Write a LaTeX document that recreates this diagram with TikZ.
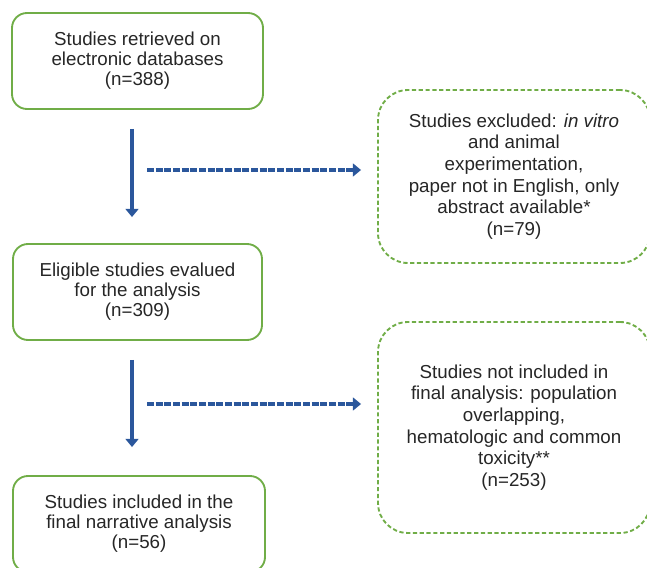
\documentclass[tikz,border=0pt]{standalone}
\usepackage{fontspec}
\setmainfont{Liberation Sans}
\usetikzlibrary{arrows.meta,positioning}
\definecolor{boxgreen}{HTML}{70AD47}
\definecolor{arrowblue}{HTML}{2B579C}

\begin{document}
\begin{tikzpicture}[x=0.03cm, y=-0.03cm, ->, >={Triangle[width=11pt,length=7pt]},
  box/.style={draw=boxgreen, line width=1.6pt, rounded corners=0.45cm, align=center,
    font=\fontsize{16}{17}\selectfont, text=black!85, inner sep=0pt},
  exbox/.style={box, dash pattern=on 3.6pt off 2.2pt, rounded corners=0.9cm,
    font=\fontsize{16}{18.5}\selectfont},
  down/.style={arrowblue, line width=4.2pt},
  side/.style={down, dash pattern=on 6pt off 1.4pt}]
  \useasboundingbox (0,0) rectangle (647,568);
  \node[box, minimum width=7.53cm, minimum height=2.88cm] (retr) at (137.5,61)
    {Studies retrieved on\\electronic databases\\(n=388)};
  \node[box, minimum width=7.47cm, minimum height=2.88cm] (elig) at (137.5,292)
    {Eligible studies evalued\\for the analysis\\(n=309)};
  \node[box, minimum width=7.56cm, minimum height=2.88cm] (incl) at (139,524)
    {Studies included in the\\final narrative analysis\\(n=56)};
  \node[exbox, minimum width=8.16cm, minimum height=5.19cm] (excl) at (514,176.5)
    {Studies excluded: \textit{in vitro}\\and animal\\experimentation,\\paper not in English, only\\abstract available*\\(n=79)};
  \node[exbox, minimum width=8.16cm, minimum height=6.33cm] (notincl) at (514,427.5)
    {Studies not included in\\final analysis: population\\overlapping,\\hematologic and common\\toxicity**\\(n=253)};
  % arrows
  \coordinate (v) at (132,0);
  \coordinate (h1) at (147,170);
  \coordinate (h2) at (147,404);
  \draw[down, shorten <=0.57cm, shorten >=0.78cm] (retr.south -| v) -- (elig.north -| v);
  \draw[down, shorten <=0.57cm, shorten >=0.84cm] (elig.south -| v) -- (incl.north -| v);
  \draw[side, shorten >=0.48cm] (h1) -- (excl.west |- h1);
  \draw[side, shorten >=0.48cm] (h2) -- (notincl.west |- h2);
\end{tikzpicture}
\end{document}
